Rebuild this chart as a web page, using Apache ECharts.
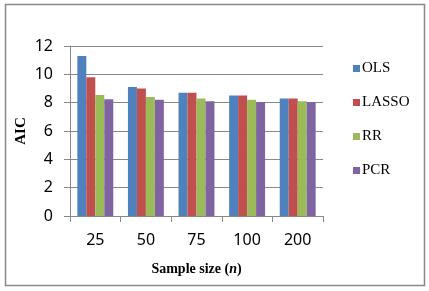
<!DOCTYPE html>
<html>
<head>
<meta charset="utf-8">
<script src="https://cdn.jsdelivr.net/npm/echarts@6/dist/echarts.min.js"></script>
<style>
  html, body { margin: 0; padding: 0; background: #fff; }
  #chart { width: 429px; height: 291px; }
</style>
</head>
<body>
<div id="chart"></div>
<script>
const categories = ['25', '50', '75', '100', '200']
const olsValues = [11.3, 9.1, 8.7, 8.5, 8.3]
const lassoValues = [9.8, 9.0, 8.7, 8.5, 8.3]
const rrValues = [8.55, 8.4, 8.3, 8.2, 8.1]
const pcrValues = [8.25, 8.2, 8.1, 8.05, 8.05]

const chart = echarts.init(document.getElementById('chart'))

const barSeries = (name, data, color) => ({
  name,
  type: 'bar',
  data,
  barGap: '0%',
  barCategoryGap: '29%',
  itemStyle: { color }
})

const option = {
  backgroundColor: '#fff',
  animation: false,
  graphic: [
    {
      type: 'rect',
      shape: { x: 5.5, y: 4.5, width: 419, height: 281 },
      style: { fill: 'none', stroke: '#888', lineWidth: 1.5 }
    }
  ],
  grid: { left: 70, right: 106, top: 46, bottom: 75 },
  legend: {
    orient: 'vertical',
    left: 348,
    top: 56,
    itemWidth: 7,
    itemHeight: 7,
    itemGap: 19,
    icon: 'rect',
    textStyle: {
      fontFamily: 'Liberation Serif',
      fontSize: 15,
      lineHeight: 15,
      color: '#000',
      padding: [0, 0, 0, -3]
    },
    data: ['OLS', 'LASSO', 'RR', 'PCR']
  },
  xAxis: {
    type: 'category',
    data: categories,
    name: '{b|Sample size (}{i|n}{b|)}',
    nameLocation: 'middle',
    nameGap: 46,
    nameTextStyle: {
      rich: {
        b: { fontFamily: 'Liberation Serif', fontWeight: 'bold', fontSize: 14, color: '#000' },
        i: { fontFamily: 'Liberation Serif', fontWeight: 'bold', fontStyle: 'italic', fontSize: 14, color: '#000' }
      }
    },
    axisLine: { lineStyle: { color: '#888', width: 1 } },
    axisTick: { show: true, length: 6, lineStyle: { color: '#888' } },
    axisLabel: { fontFamily: 'Noto Sans', fontSize: 16, color: '#000', margin: 16 }
  },
  yAxis: {
    type: 'value',
    min: 0,
    max: 12,
    interval: 2,
    name: 'AIC',
    nameLocation: 'middle',
    nameGap: 41,
    nameMoveOverlap: false,
    nameTextStyle: { fontFamily: 'Liberation Serif', fontWeight: 'bold', fontSize: 15, color: '#000' },
    axisLine: { show: true, lineStyle: { color: '#888', width: 1 } },
    axisTick: { show: true, length: 6, lineStyle: { color: '#888' } },
    splitLine: { lineStyle: { color: '#888', width: 1 } },
    axisLabel: { fontFamily: 'Noto Sans', fontSize: 16, color: '#000', margin: 17 }
  },
  series: [
    barSeries('OLS', olsValues, '#4F81BD'),
    barSeries('LASSO', lassoValues, '#C0504D'),
    barSeries('RR', rrValues, '#9BBB59'),
    barSeries('PCR', pcrValues, '#8064A2')
  ]
}

chart.setOption(option)
</script>
</body>
</html>
